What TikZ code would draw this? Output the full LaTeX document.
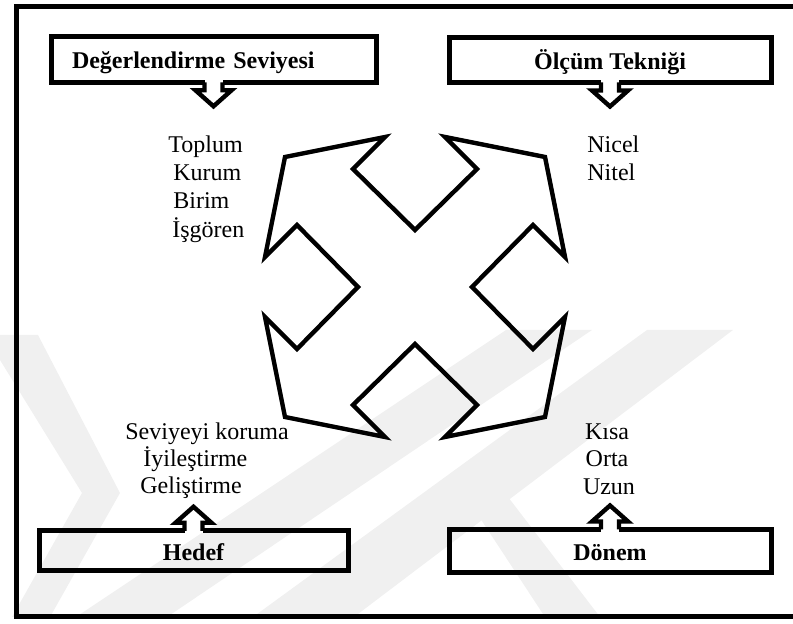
\documentclass[tikz,border=0pt]{standalone}
\usepackage{fontspec}
\setmainfont{Liberation Serif}
\usepackage{tikz}

\tikzset{
	kutu/.style={draw, rectangle, line width=2.5pt, outer sep=0pt, font=\fontsize{12}{13.75}\selectfont\bfseries, text height=10.5pt, text depth=1pt},
	okucu/.style={line width=2.2pt, line join=miter},
	madde/.style={inner sep=0pt, anchor=base west},
	filigran/.style={fill=black!6},
}

\begin{document}
\begin{tikzpicture}[x=0.5pt,y=-0.5pt,font=\fontsize{12}{13.75}\selectfont]
			\useasboundingbox (0,0) rectangle (793,624);
			% watermark
			\fill[filigran] (0,335) -- (38,335) -- (120,493) -- (50,617) -- (12,617) -- (82,493) -- (0,360) -- cycle;
			\fill[filigran] (76,617) -- (167,617) -- (592,330) -- (506,330) -- cycle;
			\fill[filigran] (253,617) -- (354,617) -- (733,330) -- (647,330) -- cycle;
			\fill[filigran] (455,480) -- (495,480) -- (600,617) -- (545,617) -- cycle;
			% frame
			\draw [line width=2.5pt] (793,6.5) -- (16,6.5) -- (16,617) -- (793,617);
			% boxes
			\node[kutu, minimum width=162.5pt, minimum height=23pt, text width=141.5pt, align=left] (deger) at (213.5,59.3) {Değerlendirme Seviyesi};
			\node[kutu, minimum width=161pt, minimum height=22.5pt] (olcum) at (610,60) {Ölçüm Tekniği};
			\node[kutu, minimum width=154.5pt, minimum height=20pt] (hedef) at (193.5,550.8) {Hedef};
			\node[kutu, minimum width=161pt, minimum height=21.5pt] (donem) at (610,551) {Dönem};
			% callout arrows
			\fill[white] (deger.south) ++(-9,-2.5) rectangle ++(18,12);
			\draw[okucu] (deger.south) ++(-9,0) -- ++(0,8) -- ++(-9,0) -- ++(18,16) -- ++(18,-16) -- ++(-9,0) -- ++(0,-8);
			\fill[white] (olcum.south) ++(-9,-2.5) rectangle ++(18,12);
			\draw[okucu] (olcum.south) ++(-9,0) -- ++(0,8) -- ++(-9,0) -- ++(18,16) -- ++(18,-16) -- ++(-9,0) -- ++(0,-8);
			\fill[white] (hedef.north) ++(-9,2.5) rectangle ++(18,-12);
			\draw[okucu] (hedef.north) ++(-9,0) -- ++(0,-8) -- ++(-9,0) -- ++(18,-16) -- ++(18,16) -- ++(-9,0) -- ++(0,8);
			\fill[white] (donem.north) ++(-9,2.5) rectangle ++(18,-12);
			\draw[okucu] (donem.north) ++(-9,0) -- ++(0,-8) -- ++(-9,0) -- ++(18,-16) -- ++(18,16) -- ++(-9,0) -- ++(0,8);
			% four-way arrow
			\draw[okucu] (415,230) -- (477,169) -- (445,137) -- (545,157) -- (565,257) -- (533,225) -- (472,287) -- (533,349) -- (565,317) -- (545,417) -- (445,437) -- (477,405) -- (415,344) -- (353,405) -- (385,437) -- (285,417) -- (265,317) -- (297,349) -- (358,287) -- (297,225) -- (265,257) -- (285,157) -- (385,137) -- (353,169) -- cycle;
			% lists
			\node[madde] (toplum) at (168,153) {Toplum};
			\node[madde] (kurum) at (173,181) {Kurum};
			\node[madde] (birim) at (173,209) {Birim};
			\node[madde] (isgoren) at (172,238) {İşgören};
			\node[madde] (nicel) at (587,153) {Nicel};
			\node[madde] (nitel) at (587,181) {Nitel};
			\node[madde] (seviye) at (125,440) {Seviyeyi koruma};
			\node[madde] (iyilestirme) at (143,467) {İyileştirme};
			\node[madde] (gelistirme) at (140,494) {Geliştirme};
			\node[madde, anchor=base] (kisa) at (607,440) {Kısa};
			\node[madde, anchor=base] (orta) at (607,467) {Orta};
			\node[madde, anchor=base] (uzun) at (609,495) {Uzun};
		\end{tikzpicture}
\end{document}
